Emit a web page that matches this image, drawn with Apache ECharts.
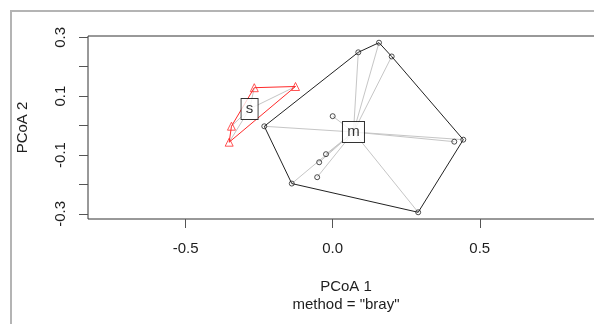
<!DOCTYPE html>
<html>
<head>
<meta charset="utf-8">
<script src="https://cdn.jsdelivr.net/npm/echarts@6/dist/echarts.min.js"></script>
<style>
  html, body { margin: 0; padding: 0; background: #fff; }
  #chart { width: 594px; height: 324px; }
</style>
</head>
<body>
<div id="chart"></div>
<script>
// Betadisper-style ordination: two groups on the first two PCoA axes
const groupNames = ['s', 'm'];

// group "s" sample scores
const sX = [-0.2665, -0.1264, -0.3440, -0.3518];
const sY = [0.1288, 0.1329, -0.0020, -0.0564];

// group "m" sample scores
const mX = [-0.2325, 0.0870, 0.1574, 0.2005, 0.0000, -0.0228, -0.0459, -0.0527, -0.1390, 0.2906, 0.4133, 0.4439];
const mY = [-0.0024, 0.2491, 0.2818, 0.2349, 0.0320, -0.0972, -0.1247, -0.1754, -0.1971, -0.2947, -0.0547, -0.0479];

// group centroids
const centroidX = [-0.2825, 0.0707];
const centroidY = [0.0564, -0.0218];

// axis ticks and labels
const xTicks = [-0.5, 0.0, 0.5];
const yTicks = [-0.3, -0.2, -0.1, 0.0, 0.1, 0.2, 0.3];
const yLabelTicks = [-0.3, -0.1, 0.1, 0.3];

const FONT = "'Liberation Sans', Arial, sans-serif";
const INK = '#1e1e1e';
const FS = 15;

function toPoints(xs, ys) {
  return xs.map((x, i) => [x, ys[i]]);
}

// convex hull (monotone chain), returned as a closed ring
function hull(points) {
  const p = points.slice().sort((a, b) => a[0] - b[0] || a[1] - b[1]);
  const cross = (o, a, b) => (a[0] - o[0]) * (b[1] - o[1]) - (a[1] - o[1]) * (b[0] - o[0]);
  const lower = [];
  for (const q of p) {
    while (lower.length >= 2 && cross(lower[lower.length - 2], lower[lower.length - 1], q) <= 0) lower.pop();
    lower.push(q);
  }
  const upper = [];
  for (let i = p.length - 1; i >= 0; i--) {
    const q = p[i];
    while (upper.length >= 2 && cross(upper[upper.length - 2], upper[upper.length - 1], q) <= 0) upper.pop();
    upper.push(q);
  }
  upper.pop(); lower.pop();
  const ring = lower.concat(upper);
  ring.push(ring[0]);
  return ring;
}

const sPts = toPoints(sX, sY);
const mPts = toPoints(mX, mY);
const centroids = toPoints(centroidX, centroidY);

function spokes(pts, c) {
  return pts.map(p => ({ coords: [c, p] }));
}

const chart = echarts.init(document.getElementById('chart'), null, { renderer: 'canvas' });

chart.setOption({
  animation: false,
  backgroundColor: '#fff',
  textStyle: { fontFamily: FONT },
  grid: {
    left: 88, top: 36, right: -10, bottom: 105,
    outerBoundsMode: 'none',
    show: true, borderColor: '#333', borderWidth: 1, backgroundColor: 'transparent'
  },
  xAxis: {
    type: 'value',
    min: -0.8317, max: 0.9222,
    splitLine: { show: false },
    axisLine: { show: false, onZero: false },
    axisTick: { show: true, customValues: xTicks, length: 9, lineStyle: { color: '#555', width: 1 } },
    axisLabel: {
      customValues: xTicks, margin: 22, fontSize: FS, color: INK, fontFamily: FONT,
      formatter: v => v.toFixed(1)
    },
    name: 'PCoA 1', nameLocation: 'middle', nameGap: 60,
    nameTextStyle: { fontSize: FS, color: INK, fontFamily: FONT }
  },
  yAxis: {
    type: 'value',
    min: -0.3175, max: 0.3045,
    splitLine: { show: false },
    axisLine: { show: false, onZero: false },
    axisTick: { show: true, customValues: yTicks, length: 9, lineStyle: { color: '#555', width: 1 } },
    axisLabel: {
      customValues: yLabelTicks, rotate: 90, margin: 20, fontSize: FS, color: INK, fontFamily: FONT,
      formatter: v => v.toFixed(1)
    },
    name: 'PCoA 2', nameLocation: 'middle', nameGap: 58, nameRotate: 90,
    nameTextStyle: { fontSize: FS, color: INK, fontFamily: FONT }
  },
  graphic: [
    {
      type: 'rect', silent: true, z: -10,
      shape: { x: 11, y: 11, width: 700, height: 400 },
      style: { fill: 'none', stroke: '#b4b4b4', lineWidth: 2 }
    },
    {
      type: 'text', silent: true,
      x: 346, y: 305,
      style: {
        text: 'method = "bray"',
        textAlign: 'center', textVerticalAlign: 'middle',
        font: FS + 'px ' + FONT, fill: INK
      }
    }
  ],
  series: [
    {
      type: 'lines', coordinateSystem: 'cartesian2d', z: 1,
      lineStyle: { color: '#c6c6c6', width: 1, opacity: 1 },
      data: spokes(sPts, centroids[0]).concat(spokes(mPts, centroids[1]))
    },
    {
      type: 'line', z: 2, symbol: 'none',
      lineStyle: { color: '#ff2a2a', width: 1 },
      data: hull(sPts)
    },
    {
      type: 'line', z: 2, symbol: 'none',
      lineStyle: { color: '#222', width: 1 },
      data: hull(mPts)
    },
    {
      type: 'scatter', z: 3, symbol: 'triangle', symbolSize: 8,
      itemStyle: { color: 'rgba(0,0,0,0)', borderColor: '#ff2a2a', borderWidth: 1 },
      data: sPts
    },
    {
      type: 'scatter', z: 3, symbol: 'circle', symbolSize: 5,
      itemStyle: { color: 'rgba(0,0,0,0)', borderColor: '#222', borderWidth: 1 },
      data: mPts
    },
    {
      type: 'scatter', z: 4, symbol: 'rect',
      itemStyle: { color: '#fff', borderColor: '#000', borderWidth: 1 },
      label: {
        show: true, position: 'inside', formatter: p => p.name,
        fontSize: 15, color: '#000', fontFamily: FONT
      },
      data: centroids.map((c, i) => ({
        name: groupNames[i], value: c,
        symbolSize: i === 0 ? [17, 21] : [22, 21]
      }))
    }
  ]
});
</script>
</body>
</html>
